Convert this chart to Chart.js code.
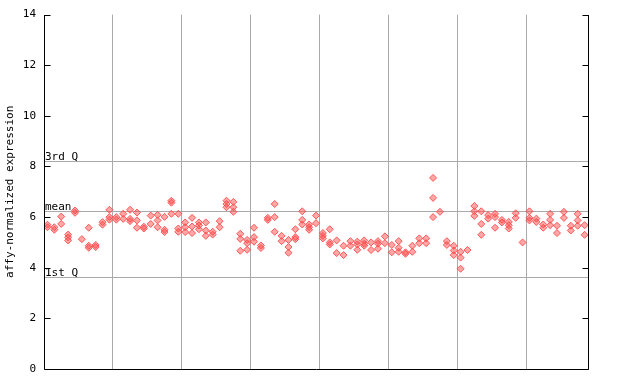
<!DOCTYPE html>
<html>
<head>
<meta charset="utf-8">
<script src="https://cdn.jsdelivr.net/npm/chart.js@4.4.1/dist/chart.umd.min.js"></script>
<style>
html,body{margin:0;padding:0;background:#fff;}
#wrap{width:640px;height:384px;}
</style>
</head>
<body>
<div id="wrap"><canvas id="c" width="640" height="384"></canvas></div>
<script>
// One entry per sample (column); each entry lists replicate values
const expression = [
  [5.70,5.60],[5.60,5.50],[6.02,5.73],[5.31,5.20,5.08],[6.17,6.26],
  [5.13],[5.58,4.87,4.79],[4.90,4.82],[5.80,5.70],[6.29,6.00,5.90],
  [6.00,5.90],[6.13,5.93],[6.29,5.93,5.84],[6.18,5.87,5.58],[5.62,5.55],
  [6.06,5.73],[6.09,5.87,5.60],[6.01,5.50,5.41],[6.65,6.57,6.13],[6.13,5.55,5.42],
  [5.79,5.60,5.41],[5.97,5.63,5.37],[5.79,5.67,5.52],[5.79,5.47,5.26],[5.31,5.42],
  [5.84,5.60],[6.65,6.52,6.39],[6.60,6.39,6.21],[5.34,5.14,4.67],[5.10,4.97,4.71],
  [5.58,5.21,5.03],[4.78,4.88],[5.97,5.89],[6.52,6.00,5.42],[5.05,5.26],
  [5.10,4.82,4.59],[5.52,5.21,5.13],[6.23,5.89,5.71],[5.71,5.60,5.50],[6.06,5.76],
  [5.37,5.26,5.16],[5.52,5.00,4.92],[5.08,4.58],[4.87,4.50],[5.05,4.87],
  [5.03,4.92,4.71],[5.08,4.95,4.87],[5.00,4.70],[5.05,4.95,4.75],[5.24,4.97],
  [4.90,4.61],[5.05,4.79,4.63],[4.61,4.55],[4.87,4.63],[5.16,4.97],
  [5.16,4.97],[7.55,6.76,6.00],[6.21],[5.05,4.90],[4.87,4.68,4.50],
  [4.63,4.40,3.96],[4.70],[6.44,6.23,6.05],[6.23,5.73,5.30],[6.08,5.94],
  [6.13,6.00,5.58],[5.89,5.79],[5.81,5.68,5.55],[6.15,5.97],[5.00],
  [6.23,5.97,5.87],[5.94,5.81],[5.71,5.58],[6.13,5.89,5.68],[5.66,5.37],
  [6.21,5.97],[5.66,5.47],[6.13,5.87,5.66],[5.68,5.30]
];
const groupBoundaries = [9.5,19.5,29.5,39.5,49.5,59.5,69.5];
const yTicks = [0,2,4,6,8,10,12,14];
const refLines = [
  {label:'3rd Q', value:8.23},
  {label:'mean',  value:6.23},
  {label:'1st Q', value:3.63}
];
const yTitle = 'affy-normalized expression';

const points = [];
expression.forEach((vals, i) => vals.forEach(v => points.push({x:i, y:v})));

const MONO = '"DejaVu Sans Mono", "Liberation Mono", monospace';

const framePlugin = {
  id:'frame',
  beforeDatasetsDraw(chart){
    const {ctx, chartArea:a, scales:{y}} = chart;
    ctx.save();
    ctx.strokeStyle = '#aaaaaa';
    ctx.lineWidth = 1;
    ctx.fillStyle = '#000';
    ctx.font = '11px ' + MONO;
    ctx.textAlign = 'left';
    ctx.textBaseline = 'bottom';
    refLines.forEach(r => {
      const py = Math.round(y.getPixelForValue(r.value)) + 0.5;
      ctx.beginPath(); ctx.moveTo(a.left, py); ctx.lineTo(a.right, py); ctx.stroke();
      ctx.fillText(r.label, a.left + 1, py + 1);
    });
    ctx.restore();
  },
  afterDraw(chart){
    const {ctx, chartArea:a, scales:{y}} = chart;
    ctx.save();
    ctx.strokeStyle = '#000';
    ctx.lineWidth = 1;
    const L = Math.round(a.left) + 0.5, R = Math.round(a.right) + 0.5, B = Math.round(a.bottom) + 0.5, T = Math.round(a.top);
    ctx.beginPath();
    ctx.moveTo(L, T); ctx.lineTo(L, B); ctx.lineTo(R, B); ctx.lineTo(R, T);
    yTicks.forEach(t => {
      const py = Math.round(y.getPixelForValue(t)) + 0.5;
      ctx.moveTo(L, py); ctx.lineTo(L + 6, py);
      ctx.moveTo(R, py); ctx.lineTo(R - 6, py);
    });
    ctx.stroke();
    ctx.restore();
  }
};

new Chart(document.getElementById('c'), {
  type:'scatter',
  data:{datasets:[{
    data: points,
    pointStyle:'rectRot',
    pointRadius:3.5,
    pointHoverRadius:3.5,
    backgroundColor:'rgba(255,80,80,0.5)',
    borderColor:'rgba(255,75,75,0.9)',
    borderWidth:1
  }]},
  options:{
    responsive:false,
    animation:false,
    events:[],
    layout:{padding:{top:14,right:52,bottom:0,left:0}},
    plugins:{legend:{display:false}, tooltip:{enabled:false}},
    scales:{
      x:{
        type:'linear', min:-0.5, max:78.5,
        afterBuildTicks(s){ s.ticks = groupBoundaries.map(v => ({value:v})); },
        afterFit(s){ s.height = 15; },
        ticks:{display:false},
        grid:{display:true, color:'#aaaaaa', lineWidth:1, drawTicks:false},
        border:{display:false}
      },
      y:{
        min:0, max:14,
        afterBuildTicks(s){ s.ticks = yTicks.map(v => ({value:v})); },
        afterFit(s){ s.width = 44; },
        ticks:{padding:8, color:'#000', font:{family:MONO, size:11}},
        grid:{display:false, drawTicks:false},
        border:{display:false},
        title:{display:true, text:yTitle, color:'#000', padding:{top:4,bottom:0}, font:{family:MONO, size:11}}
      }
    }
  },
  plugins:[framePlugin]
});
</script>
</body>
</html>
